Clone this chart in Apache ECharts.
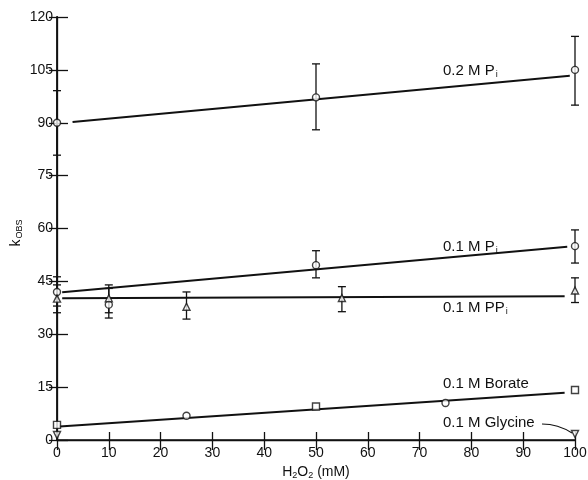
<!DOCTYPE html>
<html>
<head>
<meta charset="utf-8">
<script src="https://cdn.jsdelivr.net/npm/echarts@6/dist/echarts.min.js"></script>
<style>
  html, body { margin: 0; padding: 0; background: #fff; }
  #myChart { width: 588px; height: 480px; }
</style>
</head>
<body>
<div id="myChart"></div>
<script>
// Data: x = H2O2 (mM), y = k_obs
const xTicks = [0, 10, 20, 30, 40, 50, 60, 70, 80, 90, 100];
const yTicks = [0, 15, 30, 45, 60, 75, 90, 105, 120];

// 0.2 M Pi
const pi02X = [0, 50, 100];
const pi02Y = [90, 97.2, 105];
const pi02Lo = [80.8, 88, 95];
const pi02Hi = [99.1, 106.7, 114.5];
const pi02FitX = [3, 99];
const pi02FitY = [90.2, 103.3];

// 0.1 M Pi
const pi01X = [0, 10, 50, 100];
const pi01Y = [42, 38.4, 49.6, 55];
const pi01Lo = [38, 34.6, 46, 50.2];
const pi01Hi = [46.3, 44, 53.7, 59.6];
const pi01FitX = [1, 98.5];
const pi01FitY = [41.9, 54.8];

// 0.1 M PPi
const ppiX = [0, 10, 25, 55, 100];
const ppiY = [40.1, 40.2, 37.8, 40.3, 42.4];
const ppiLo = [36.1, 36.1, 34.3, 36.4, 39];
const ppiHi = [44, 43, 42, 43.5, 46];
const ppiFitX = [1, 98];
const ppiFitY = [40.2, 40.8];

// 0.1 M Borate (squares and circles)
const borSqX = [0, 50, 100];
const borSqY = [4.3, 9.5, 14.2];
const borCiX = [25, 75];
const borCiY = [6.9, 10.5];
const borFitX = [0.5, 98];
const borFitY = [3.8, 13.4];

// 0.1 M Glycine
const glyX = [0, 100];
const glyY = [1.4, 1.7];

const font = "'Liberation Sans', Arial, sans-serif";

function pairs(xs, ys) { return xs.map((x, i) => [x, ys[i]]); }
function bars(xs, lo, hi) { return xs.map((x, i) => [x, lo[i], hi[i]]); }

function errorSeries(data) {
  return {
    type: 'custom',
    data: data,
    clip: false,
    z: 2,
    silent: true,
    renderItem: function (params, api) {
      const x = api.value(0);
      const a = api.coord([x, api.value(1)]);
      const b = api.coord([x, api.value(2)]);
      const st = { stroke: '#111', lineWidth: 1.3 };
      return {
        type: 'group',
        children: [
          { type: 'line', shape: { x1: a[0], y1: a[1], x2: b[0], y2: b[1] }, style: st },
          { type: 'line', shape: { x1: a[0] - 4, y1: a[1], x2: a[0] + 4, y2: a[1] }, style: st },
          { type: 'line', shape: { x1: b[0] - 4, y1: b[1], x2: b[0] + 4, y2: b[1] }, style: st }
        ]
      };
    }
  };
}

function fitSeries(xs, ys) {
  return {
    type: 'line', data: pairs(xs, ys), symbol: 'none', z: 1,
    lineStyle: { color: '#111', width: 2 }, silent: true
  };
}

function markSeries(xs, ys, symbol, rotate) {
  return {
    type: 'scatter', data: pairs(xs, ys), symbol: symbol, symbolSize: 7,
    symbolRotate: rotate || 0, z: 3, clip: false,
    itemStyle: { color: '#fff', borderColor: '#111', borderWidth: 1.4 }
  };
}

const subRich = {
  m: { fontSize: 15, fontFamily: font, color: '#111' },
  s: { fontSize: 9, fontFamily: font, color: '#111', padding: [9, 0, 0, 1] }
};

function label(text, left, top) {
  return {
    type: 'text', left: left, top: top, z: 10,
    style: { text: text, rich: subRich, fill: '#111' }
  };
}

let myChart = echarts.init(document.getElementById('myChart'));

const axisTextStyle = { color: '#111', fontSize: 14, fontFamily: font };

let option = {
  animation: false,
  backgroundColor: '#fff',
  grid: { left: 57, right: 13, top: 17, bottom: 40, containLabel: false, outerBoundsMode: 'none' },
  xAxis: [
    {
      type: 'value', min: 0, max: 100, interval: 10, position: 'bottom',
      axisLine: { lineStyle: { color: '#111', width: 1.5 } },
      axisTick: { inside: true, length: 8, lineStyle: { color: '#111', width: 1.3 } },
      axisLabel: Object.assign({ margin: 6, formatter: v => xTicks.includes(v) ? String(v) : '' }, axisTextStyle),
      splitLine: { show: false },
      name: 'H{s|2}O{s|2} (mM)', nameLocation: 'middle', nameGap: 24,
      nameTextStyle: { fontSize: 14, fontFamily: font, color: '#111',
        rich: { s: { fontSize: 9, fontFamily: font, color: '#111', padding: [7, 0, 0, 0] } } }
    },
    {
      type: 'value', min: 0, max: 100, interval: 10, position: 'top',
      axisLine: { lineStyle: { color: '#111', width: 1.3 } },
      axisTick: { inside: true, length: 10, lineStyle: { color: '#111', width: 1.3 } },
      axisLabel: { show: false }, splitLine: { show: false }
    }
  ],
  yAxis: [
    {
      type: 'value', min: 0, max: 120, interval: 15, position: 'left',
      axisLine: { show: true, lineStyle: { color: '#111', width: 1.8 } },
      axisTick: { show: true, inside: true, length: 11, lineStyle: { color: '#111', width: 1.3 } },
      axisLabel: Object.assign({ margin: 4, formatter: v => yTicks.includes(v) ? String(v) : '' }, axisTextStyle),
      splitLine: { show: false }
    },
    {
      type: 'value', min: 0, max: 120, interval: 15, position: 'right',
      axisLine: { show: true, lineStyle: { color: '#111', width: 1.3 } },
      axisTick: { show: true, inside: true, length: 8, lineStyle: { color: '#111', width: 1.3 } },
      axisLabel: { show: false }, splitLine: { show: false }
    }
  ],
  series: [
    fitSeries(pi02FitX, pi02FitY),
    fitSeries(pi01FitX, pi01FitY),
    fitSeries(ppiFitX, ppiFitY),
    fitSeries(borFitX, borFitY),
    errorSeries(bars(pi02X, pi02Lo, pi02Hi)),
    errorSeries(bars(pi01X, pi01Lo, pi01Hi)),
    errorSeries(bars(ppiX, ppiLo, ppiHi)),
    markSeries(pi02X, pi02Y, 'circle'),
    markSeries(pi01X, pi01Y, 'circle'),
    markSeries(ppiX, ppiY, 'triangle'),
    markSeries(borSqX, borSqY, 'rect'),
    markSeries(borCiX, borCiY, 'circle'),
    markSeries(glyX, glyY, 'triangle', 180)
  ],
  graphic: [
    label('{m|0.2 M P}{s|i}', 443, 63),
    label('{m|0.1 M P}{s|i}', 443, 239),
    label('{m|0.1 M PP}{s|i}', 443, 300),
    label('{m|0.1 M Borate}', 443, 376),
    label('{m|0.1 M Glycine}', 443, 415),
    {
      type: 'bezierCurve', z: 10,
      shape: { x1: 542, y1: 424, cpx1: 558, cpy1: 424, x2: 572, y2: 433 },
      style: { stroke: '#111', lineWidth: 1.2, fill: null }
    },
    {
      type: 'text', z: 10, x: 16, y: 233, rotation: Math.PI / 2,
      style: {
        text: '{k|k}{o|OBS}', align: 'center', verticalAlign: 'middle',
        rich: {
          k: { fontSize: 14, fontFamily: font, color: '#111' },
          o: { fontSize: 9, fontFamily: font, color: '#111', padding: [8, 0, 0, 1] }
        }
      }
    }
  ]
};

myChart.setOption(option);
</script>
</body>
</html>
